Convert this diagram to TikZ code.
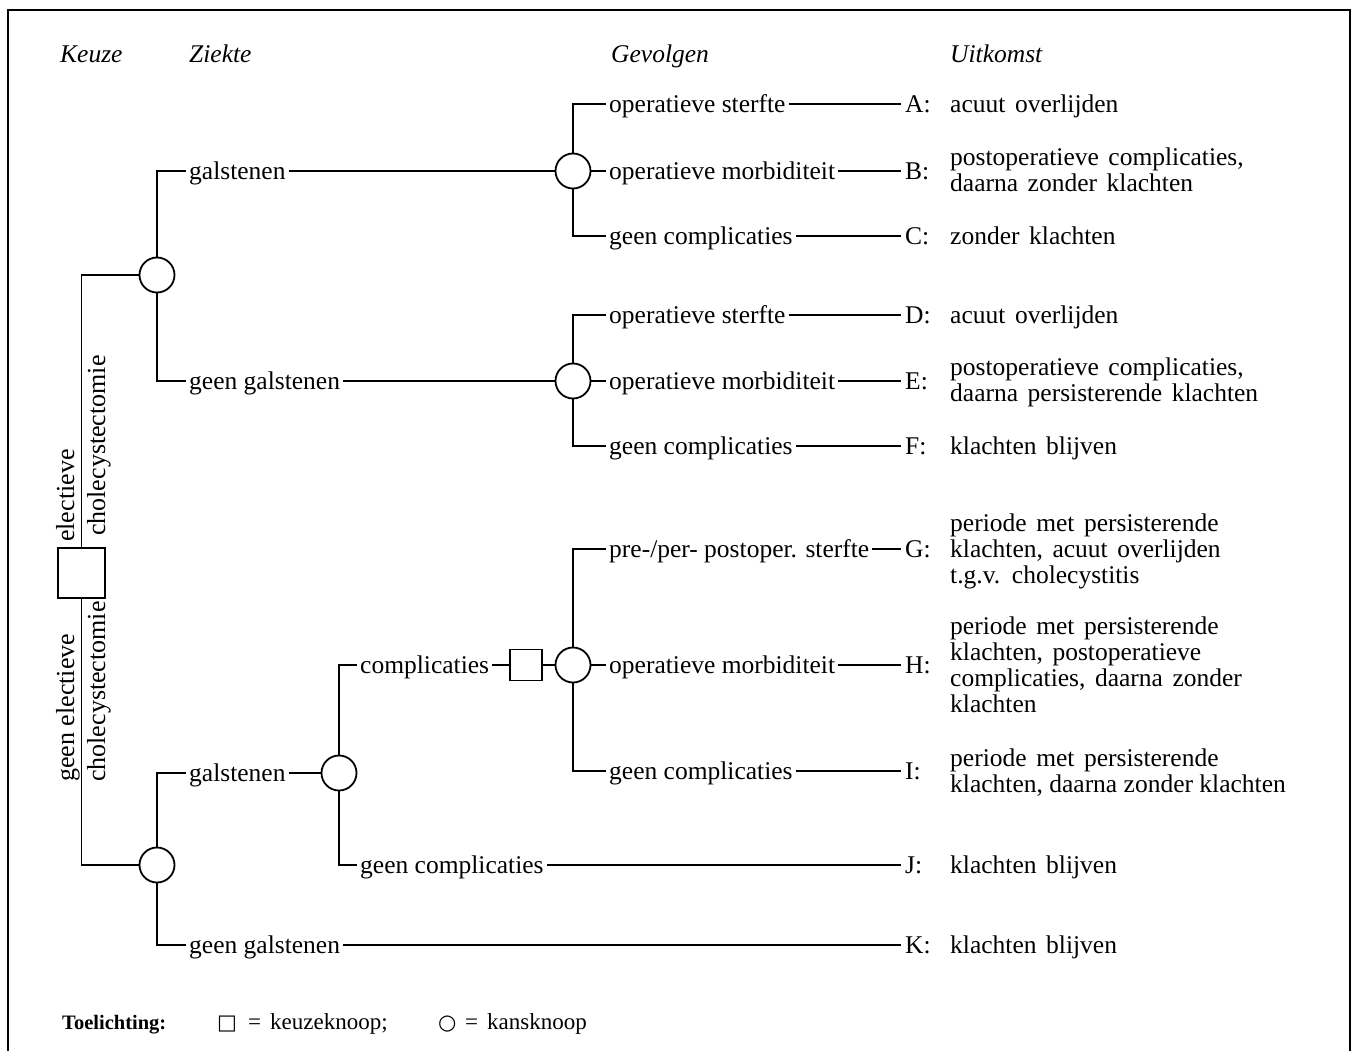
\documentclass[tikz,border=0pt]{standalone}
\usepackage{fontspec}
\setmainfont{Liberation Serif}
\newfontfamily\symfont{DejaVu Sans}
\newfontfamily\outfont[WordSpace=1.5]{Liberation Serif}
\newcommand{\txt}{\fontsize{25.5}{26}\selectfont}
\newcommand{\oc}[1]{\begin{tabular}{@{}l@{}}#1\end{tabular}}
\begin{document}
\begin{tikzpicture}[x=1pt,y=-1pt,
  conn/.style={line width=1.4pt},
  chance/.style={circle,draw,line width=1.8pt,minimum size=35pt,inner sep=0pt,fill=white},
  choice/.style={rectangle,draw,line width=1.6pt,inner sep=0pt,fill=white},
  lbl/.style={anchor=west,inner xsep=3pt,inner ysep=0pt,font=\txt,text height=20.5pt,text depth=4.1pt},
  letter/.style={anchor=west,inner xsep=4pt,inner ysep=0pt,font=\txt,text height=20.5pt,text depth=4.1pt},
  outc/.style={anchor=west,inner sep=0pt,font=\outfont\txt},
  head/.style={anchor=base west,inner sep=0pt,font=\txt\itshape},
  rot/.style={rotate=90,anchor=base west,inner sep=0pt,font=\fontsize{26}{28}\selectfont}]
\useasboundingbox (0,0) rectangle (1356,1051);
\draw[line width=1.5pt] (8,1051) -- (8,10) -- (1350,10) -- (1350,1051);

% headers
\node[head] (hK) at (60,63) {Keuze};
\node[head] (hZ) at (189,63) {Ziekte};
\node[head] (hG) at (611,63) {Gevolgen};
\node[head] (hU) at (950,63) {Uitkomst};

% decision / chance nodes
\node[choice,minimum width=47pt,minimum height=50pt] (sq1) at (81.5,573) {};
\node[chance] (cA) at (157,275) {};
\node[chance] (cB) at (573,171) {};
\node[chance] (cC) at (573,381) {};
\node[chance] (cD) at (157,865) {};
\node[chance] (cE) at (339,773) {};
\node[choice,minimum width=32pt,minimum height=31pt] (sq2) at (526,665) {};
\node[chance] (cF) at (573,665) {};

% rotated choice labels
\node[rot] (r1) at (74,542) {electieve};
\node[rot] (r2) at (105,536) {cholecystectomie};
\node[rot] (r3) at (74,782) {geen electieve};
\node[rot] (r4) at (105,782) {cholecystectomie};

% level-1/2 labels
\node[lbl] (gal1) at (186,171) {galstenen};
\node[lbl] (ggal1) at (186,381) {geen galstenen};
\node[lbl] (gal2) at (186,773) {galstenen};
\node[lbl] (ggal2) at (186,945) {geen galstenen};
\node[lbl] (comp) at (357,665) {complicaties};
\node[lbl] (gcomp) at (357,865) {geen complicaties};

% level-3 labels
\node[lbl] (os1) at (606,104) {operatieve sterfte};
\node[lbl] (om1) at (606,171) {operatieve morbiditeit};
\node[lbl] (gc1) at (606,236) {geen complicaties};
\node[lbl] (os2) at (606,315) {operatieve sterfte};
\node[lbl] (om2) at (606,381) {operatieve morbiditeit};
\node[lbl] (gc2) at (606,446) {geen complicaties};
\node[lbl] (pre) at (606,549) {pre-/per- postoper. sterfte};
\node[lbl] (om3) at (606,665) {operatieve morbiditeit};
\node[lbl] (gc3) at (606,771) {geen complicaties};

% letters
\node[letter] (A) at (901,104) {A:};
\node[letter] (B) at (901,171) {B:};
\node[letter] (C) at (901,236) {C:};
\node[letter] (D) at (901,315) {D:};
\node[letter] (E) at (901,381) {E:};
\node[letter] (F) at (901,446) {F:};
\node[letter] (G) at (901,549) {G:};
\node[letter] (H) at (901,665) {H:};
\node[letter] (I) at (901,771) {I:};
\node[letter] (J) at (901,865) {J:};
\node[letter] (K) at (901,945) {K:};

% outcomes
\node[outc] (oA) at (950,107) {\oc{acuut overlijden}};
\node[outc] (oB) at (950,173) {\oc{postoperatieve complicaties,\\daarna zonder klachten}};
\node[outc] (oC) at (950,239) {\oc{zonder klachten}};
\node[outc] (oD) at (950,318) {\oc{acuut overlijden}};
\node[outc] (oE) at (950,383) {\oc{postoperatieve complicaties,\\daarna persisterende klachten}};
\node[outc] (oF) at (950,449) {\oc{klachten blijven}};
\node[outc] (oG) at (950,552) {\oc{periode met persisterende\\klachten, acuut overlijden\\t.g.v. cholecystitis}};
\node[outc] (oH) at (950,668) {\oc{periode met persisterende\\klachten, postoperatieve\\complicaties, daarna zonder\\klachten}};
\node[outc] (oI) at (950,774) {\oc{periode met persisterende\\{\rmfamily\txt klachten, daarna zonder klachten}}};
\node[outc] (oJ) at (950,868) {\oc{klachten blijven}};
\node[outc] (oK) at (950,948) {\oc{klachten blijven}};

% connectors
\draw[conn] (sq1.north) |- (cA.west);
\draw[conn] (sq1.south) |- (cD.west);
\draw[conn] (cA.north) |- (gal1.west);
\draw[conn] (cA.south) |- (ggal1.west);
\draw[conn] (gal1.east) -- (cB.west);
\draw[conn] (ggal1.east) -- (cC.west);
\draw[conn] (cB.north) |- (os1.west);
\draw[conn] (cB.east) -- (om1.west);
\draw[conn] (cB.south) |- (gc1.west);
\draw[conn] (cC.north) |- (os2.west);
\draw[conn] (cC.east) -- (om2.west);
\draw[conn] (cC.south) |- (gc2.west);
\draw[conn] (cD.north) |- (gal2.west);
\draw[conn] (cD.south) |- (ggal2.west);
\draw[conn] (gal2.east) -- (cE.west);
\draw[conn] (cE.north) |- (comp.west);
\draw[conn] (cE.south) |- (gcomp.west);
\draw[conn] (comp.east) -- (sq2.west);
\draw[conn] (sq2.east) -- (cF.west);
\draw[conn] (cF.north) |- (pre.west);
\draw[conn] (cF.east) -- (om3.west);
\draw[conn] (cF.south) |- (gc3.west);
\draw[conn] (os1.east) -- (A.west);
\draw[conn] (om1.east) -- (B.west);
\draw[conn] (gc1.east) -- (C.west);
\draw[conn] (os2.east) -- (D.west);
\draw[conn] (om2.east) -- (E.west);
\draw[conn] (gc2.east) -- (F.west);
\draw[conn] (pre.east) -- (G.west);
\draw[conn] (om3.east) -- (H.west);
\draw[conn] (gc3.east) -- (I.west);
\draw[conn] (gcomp.east) -- (J.west);
\draw[conn] (ggal2.east) -- (K.west);

% legend
\node[anchor=base west,inner sep=0pt,font=\fontsize{20.5}{24}\selectfont\bfseries] (leg) at (62,1029) {Toelichting:};
\node[anchor=base west,inner sep=0pt,font=\fontsize{23}{24}\selectfont] (leg1) at (217,1029) {\makebox[31pt][l]{\symfont\fontsize{21}{22}\selectfont □}\makebox[22pt][l]{=}keuzeknoop;};
\node[anchor=base west,inner sep=0pt,font=\fontsize{23}{24}\selectfont] (leg2) at (438,1029) {\makebox[27pt][l]{\symfont\fontsize{21}{22}\selectfont ○}\makebox[22pt][l]{=}kansknoop};
\end{tikzpicture}
\end{document}
